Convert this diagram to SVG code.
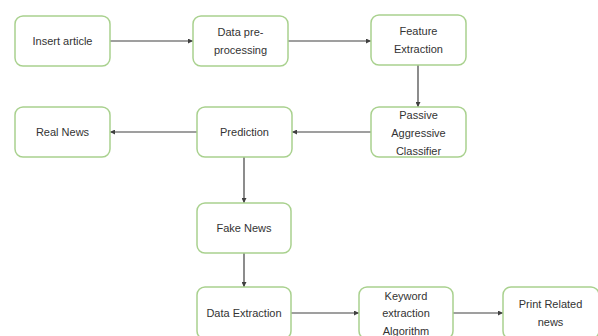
<svg xmlns="http://www.w3.org/2000/svg" width="598" height="336" viewBox="0 0 598 336">
<defs>
<style>
.box{fill:#fff;stroke:#a9d18e;stroke-width:1.5}
.t{font-family:"Liberation Sans",Arial,sans-serif;font-size:11px;fill:#333;text-anchor:middle;dominant-baseline:central}
.c{stroke:#404040;stroke-width:1.2;fill:none;marker-end:url(#ah)}
</style>
<marker id="ah" viewBox="0 0 6 6" refX="6" refY="3" markerWidth="5" markerHeight="5" orient="auto" markerUnits="userSpaceOnUse">
<path d="M0,0 L6,3 L0,6 z" fill="#404040"/>
</marker>
</defs>
<rect width="598" height="336" fill="#fff"/>
<g id="connectors">
<path class="c" d="M110,41 H193"/>
<path class="c" d="M288,41 H371"/>
<path class="c" d="M418,65 V107"/>
<path class="c" d="M371,132 H292"/>
<path class="c" d="M197,132 H110"/>
<path class="c" d="M244,157 V203"/>
<path class="c" d="M244,253 V287"/>
<path class="c" d="M291,313 H359"/>
<path class="c" d="M453,313 H503"/>
</g>
<g id="insert-article"><rect class="box" x="15" y="16" width="95" height="50" rx="8"/><text class="t" x="62.5" y="41">Insert article</text></g>
<g id="data-preprocessing"><rect class="box" x="193" y="16" width="95" height="50" rx="8"/><text class="t" x="240.5" y="32">Data pre-</text><text class="t" x="240.5" y="50">processing</text></g>
<g id="feature-extraction"><rect class="box" x="371" y="15" width="95" height="50" rx="8"/><text class="t" x="418.5" y="31">Feature</text><text class="t" x="418.5" y="49">Extraction</text></g>
<g id="real-news"><rect class="box" x="15" y="107" width="95" height="50" rx="8"/><text class="t" x="62.5" y="132">Real News</text></g>
<g id="prediction"><rect class="box" x="197" y="107" width="95" height="50" rx="8"/><text class="t" x="244.5" y="132">Prediction</text></g>
<g id="passive-aggressive-classifier"><rect class="box" x="371" y="107" width="95" height="50" rx="8"/><text class="t" x="418.5" y="115">Passive</text><text class="t" x="418.5" y="133">Aggressive</text><text class="t" x="418.5" y="151">Classifier</text></g>
<g id="fake-news"><rect class="box" x="197" y="203" width="94" height="50" rx="8"/><text class="t" x="244" y="228">Fake News</text></g>
<g id="data-extraction"><rect class="box" x="197" y="287" width="94" height="52" rx="8"/><text class="t" x="244" y="313">Data Extraction</text></g>
<g id="keyword-extraction"><rect class="box" x="359" y="287" width="94" height="52" rx="8"/><text class="t" x="406" y="296">Keyword</text><text class="t" x="406" y="313">extraction</text><text class="t" x="406" y="331">Algorithm</text></g>
<g id="print-related-news"><rect class="box" x="503" y="287" width="96" height="52" rx="8"/><text class="t" x="550.5" y="304">Print Related</text><text class="t" x="550.5" y="322">news</text></g>
</svg>
